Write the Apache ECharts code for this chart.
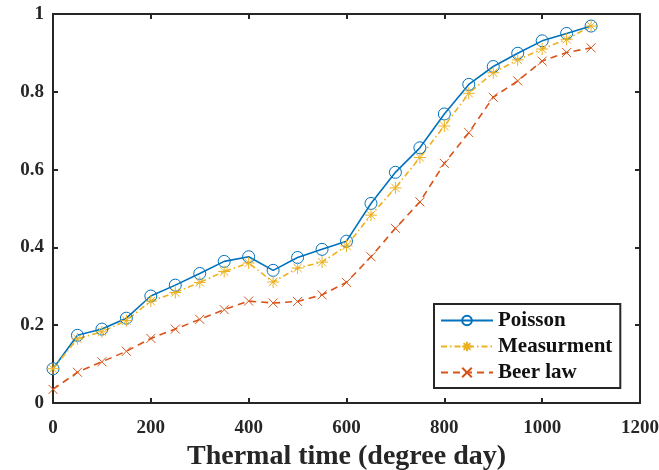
<!DOCTYPE html>
<html><head><meta charset="utf-8">
<script src="https://cdn.jsdelivr.net/npm/echarts@6/dist/echarts.min.js"></script>
<style>html,body{margin:0;padding:0;background:#fff}#c{width:659px;height:470px}</style>
</head><body><div id="c"></div>
<script>
const thermalTime = [0,50,100,150,200,250,300,350,400,450,500,550,600,650,700,750,800,850,900,950,1000,1050,1100];
const poisson =     [0.088,0.174,0.190,0.218,0.275,0.303,0.333,0.364,0.376,0.341,0.374,0.395,0.416,0.513,0.593,0.656,0.743,0.819,0.865,0.899,0.931,0.950,0.969];
const measurment =  [0.088,0.165,0.183,0.212,0.262,0.284,0.310,0.338,0.360,0.311,0.347,0.362,0.404,0.483,0.553,0.631,0.712,0.796,0.849,0.882,0.910,0.935,0.969];
const beerLaw =     [0.035,0.079,0.106,0.133,0.166,0.190,0.215,0.240,0.262,0.257,0.261,0.278,0.310,0.376,0.449,0.517,0.616,0.695,0.786,0.828,0.879,0.901,0.913];
const seriesNames = ['Poisson','Measurment','Beer law'];
const xTicks = {min:0,max:1200,interval:200};
const yTicks = {min:0,max:1,interval:0.2};
const xTitle = 'Thermal time (degree day)';

const pair = arr => thermalTime.map((t,i)=>[t,arr[i]]);
const font = 'Liberation Serif, Times New Roman, serif';
const axCol = '#262626';
const asterisk = 'path://M5 0L5 10M0 5L10 5M1.5 1.5L8.5 8.5M8.5 1.5L1.5 8.5';
const cross = 'path://M0 0L10 10M10 0L0 10';

const chart = echarts.init(document.getElementById('c'));
const baseAxis = {
  axisLine:{show:true,onZero:false,lineStyle:{color:axCol,width:2}},
  axisTick:{show:true,inside:true,length:5,lineStyle:{color:axCol,width:2}},
  splitLine:{show:false}
};
chart.setOption({
  backgroundColor:'#fff',
  animation:false,
  grid:{left:53,right:19,top:14,bottom:67,containLabel:false,outerBoundsMode:'none'},
  xAxis:[
    Object.assign({type:'value',position:'bottom',min:xTicks.min,max:xTicks.max,interval:xTicks.interval,
      name:xTitle,nameLocation:'middle',nameGap:40,
      nameTextStyle:{fontFamily:font,fontWeight:'bold',fontSize:28,color:'#262626'},
      axisLabel:{fontFamily:font,fontWeight:'bold',fontSize:19,color:'#262626',margin:16,
        formatter:v=>String(v)}},baseAxis),
    Object.assign({type:'value',position:'top',min:xTicks.min,max:xTicks.max,interval:xTicks.interval,
      axisLabel:{show:false}},baseAxis)
  ],
  yAxis:[
    Object.assign({type:'value',position:'left',min:yTicks.min,max:yTicks.max,interval:yTicks.interval,
      axisLabel:{fontFamily:font,fontWeight:'bold',fontSize:19,color:'#262626',margin:9,
        formatter:v=>String(+v.toFixed(1))}},baseAxis),
    Object.assign({type:'value',position:'right',min:yTicks.min,max:yTicks.max,interval:yTicks.interval,
      axisLabel:{show:false}},baseAxis)
  ],
  legend:{
    orient:'vertical',left:434,top:304,
    data:seriesNames,
    backgroundColor:'#fff',borderColor:axCol,borderWidth:2,
    padding:[6,8,5,6],itemGap:5,itemWidth:52,itemHeight:12,
    textStyle:{fontFamily:font,fontWeight:'bold',fontSize:21,color:'#111',lineHeight:21}
  },
  series:[
    {name:seriesNames[0],type:'line',data:pair(poisson),symbol:'circle',symbolSize:12,
     lineStyle:{color:'#0072BD',width:1.6},
     itemStyle:{color:'rgba(255,255,255,0)',borderColor:'#0072BD',borderWidth:1}},
    {name:seriesNames[1],type:'line',data:pair(measurment),symbol:asterisk,symbolSize:12,
     lineStyle:{color:'#EDB120',width:1.6,type:[6,3,1.5,3]},
     itemStyle:{color:'#EDB120',borderColor:'#EDB120',borderWidth:1}},
    {name:seriesNames[2],type:'line',data:pair(beerLaw),symbol:cross,symbolSize:9,
     lineStyle:{color:'#D95319',width:1.6,type:[7,5]},
     itemStyle:{color:'#D95319',borderColor:'#D95319',borderWidth:1}}
  ]
});
</script></body></html>
